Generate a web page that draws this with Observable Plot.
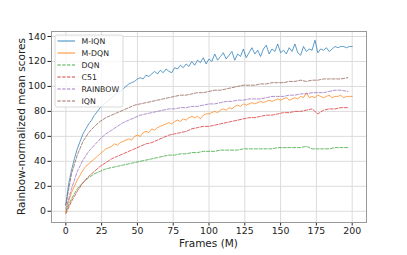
<!DOCTYPE html>
<html>
<head>
<meta charset="utf-8">
<script src="https://cdn.jsdelivr.net/npm/d3@7"></script>
<script src="https://cdn.jsdelivr.net/npm/@observablehq/plot@0.6"></script>
<style>
  html, body { margin: 0; padding: 0; background: #fff; }
  #chart { width: 407px; height: 255px; }
</style>
</head>
<body>
<div id="chart"></div>
<script>
// ---- Data ----
const framesM = [0,2,4,6,8,10,12,14,16,18,20,22,24,26,28,30,32,34,36,38,40,42,44,46,48,50,52,54,56,58,60,62,64,66,68,70,72,74,76,78,80,82,84,86,88,90,92,94,96,98,100,102,104,106,108,110,112,114,116,118,120,122,124,126,128,130,132,134,136,138,140,142,144,146,148,150,152,154,156,158,160,162,164,166,168,170,172,174,176,178,180,182,184,186,188,190,192,194,196,198,200];
const framesB = [0,4,8,12,16,20,24,28,32,36,40,44,48,52,56,60,64,68,72,76,80,84,88,92,96,100,104,108,112,116,120,124,128,132,136,140,144,148,152,156,160,164,168,172,176,180,184,188,192,197];

const mIQN = [5,22,33,42,50,56,62,66,70,73,77,80,83,85,87,89,91,93,95,96,98,100,102,103,104,106,107,106,109,108,110,112,110,113,111,114,112,111,115,114,117,115,118,116,120,117,121,119,123,118,122,120,126,121,124,127,122,125,128,121,126,124,130,123,127,131,126,129,124,130,133,126,130,128,134,127,129,126,131,128,134,127,125,132,128,130,129,137,127,130,129,131,128,130,132,131,132,132,131,132,132];
const mDQN = [-1,8,15,20,25,29,33,36,38,40,42,44,46,48,50,51,52,54,53,55,56,57,58,57,60,61,60,63,64,63,66,65,67,68,69,70,71,70,72,73,72,74,73,75,76,75,76,74,77,78,78,79,80,79,81,82,81,83,82,84,85,84,86,85,86,87,86,87,88,87,88,89,88,89,90,89,90,91,89,90,91,90,92,91,95,91,92,91,93,92,91,92,93,91,92,92,93,91,92,92,92];
const dqn = [0,10,18,23,27,30,32,34,35,36,37,38,39,40,41,42,43,44,45,45,46,46,47,47,48,48,48,49,49,49,49,50,50,50,50,50,50,51,51,51,51,51,52,50,50,50,50,51,51,51];
const c51 = [-2,8,16,23,28,32,36,39,42,44,46,48,50,52,54,55,57,59,61,62,63,64,66,67,68,68,69,70,71,72,73,74,75,75,76,77,77,78,79,79,80,80,81,82,78,81,82,82,83,83];
const rainbow = [2,18,32,41,48,53,58,62,65,68,71,73,75,77,78,79,80,81,82,82,83,83,84,84,85,86,86,87,88,88,89,89,90,90,90,91,92,92,92,93,93,94,94,95,95,95,96,97,97,96];
const iqn = [5,30,45,56,63,68,72,75,77,79,81,83,85,86,87,88,89,90,91,92,93,93,94,95,95,96,97,97,98,99,100,101,101,101,102,102,103,103,103,104,104,105,104,105,105,106,106,106,106,107];

const seriesNames = ["M-IQN", "M-DQN", "DQN", "C51", "RAINBOW", "IQN"];
const seriesColors = ["#1f77b4", "#ff7f0e", "#2ca02c", "#d62728", "#9467bd", "#8c564b"];
const seriesDashed = [false, false, true, true, true, true];
const seriesValues = [mIQN, mDQN, dqn, c51, rainbow, iqn];
const seriesFrames = [framesM, framesM, framesB, framesB, framesB, framesB];

const xTicks = [0, 25, 50, 75, 100, 125, 150, 175, 200];
const yTicks = [0, 20, 40, 60, 80, 100, 120, 140];
const xLabel = "Frames (M)";
const yLabel = "Rainbow-normalized mean scores";

// ---- Build tidy rows ----
const lineMarks = seriesNames.map((name, i) => {
  const rows = seriesValues[i].map((v, j) => ({frame: seriesFrames[i][j], value: v}));
  return Plot.line(rows, {
    x: "frame", y: "value",
    stroke: seriesColors[i],
    strokeWidth: 0.8,
    strokeOpacity: 0.9,
    strokeDasharray: seriesDashed[i] ? "3.2,1.6" : null
  });
});

const W = 407, H = 255;
const mL = 51, mR = 41, mT = 31, mB = 33;

const svg = Plot.plot({
  width: W, height: H,
  marginLeft: mL, marginRight: mR, marginTop: mT, marginBottom: mB,
  style: {fontFamily: "DejaVu Sans", fontSize: "9.4px", color: "#222", background: "#fff", overflow: "visible"},
  x: {domain: [-10, 210], ticks: xTicks, tickSize: 3.5, tickPadding: 1.5, label: null},
  y: {domain: [-9, 144], ticks: yTicks, tickSize: 3.5, tickPadding: 2, label: null},
  marks: [
    Plot.ruleX(xTicks, {stroke: "#dcdcdc", strokeWidth: 1}),
    Plot.ruleY(yTicks, {stroke: "#dcdcdc", strokeWidth: 1}),
    ...lineMarks,
    Plot.frame({stroke: "#999", strokeWidth: 1})
  ]
});

document.getElementById("chart").appendChild(svg);

// ---- Axis labels ----
const s = d3.select(svg);
s.append("text")
  .attr("x", mL + (W - mL - mR) / 2)
  .attr("y", 246.5)
  .attr("text-anchor", "middle")
  .attr("font-family", "DejaVu Sans")
  .attr("font-size", "10.5px")
  .attr("fill", "#222")
  .text(xLabel);
s.append("text")
  .attr("transform", `translate(24.5,${mT + (H - mT - mB) / 2}) rotate(-90)`)
  .attr("text-anchor", "middle")
  .attr("font-family", "DejaVu Sans")
  .attr("font-size", "10.5px")
  .attr("fill", "#222")
  .text(yLabel);

// ---- Legend (inside upper-left) ----
const lg = s.append("g");
lg.append("rect")
  .attr("x", 55).attr("y", 35).attr("width", 68).attr("height", 72)
  .attr("rx", 2).attr("fill", "#fff").attr("fill-opacity", 0.8)
  .attr("stroke", "#d0d0d0").attr("stroke-width", 0.8);
seriesNames.forEach((name, i) => {
  const cy = 41 + i * 12;
  lg.append("line")
    .attr("x1", 57.5).attr("x2", 75).attr("y1", cy).attr("y2", cy)
    .attr("stroke", seriesColors[i]).attr("stroke-width", 0.9)
    .attr("stroke-dasharray", seriesDashed[i] ? "3.2,1.6" : null);
  lg.append("text")
    .attr("x", 81.5).attr("y", cy).attr("dy", "0.35em")
    .attr("text-anchor", "start")
    .attr("font-family", "DejaVu Sans").attr("font-size", "7.8px")
    .attr("fill", "#222")
    .text(name);
});
</script>
</body>
</html>
